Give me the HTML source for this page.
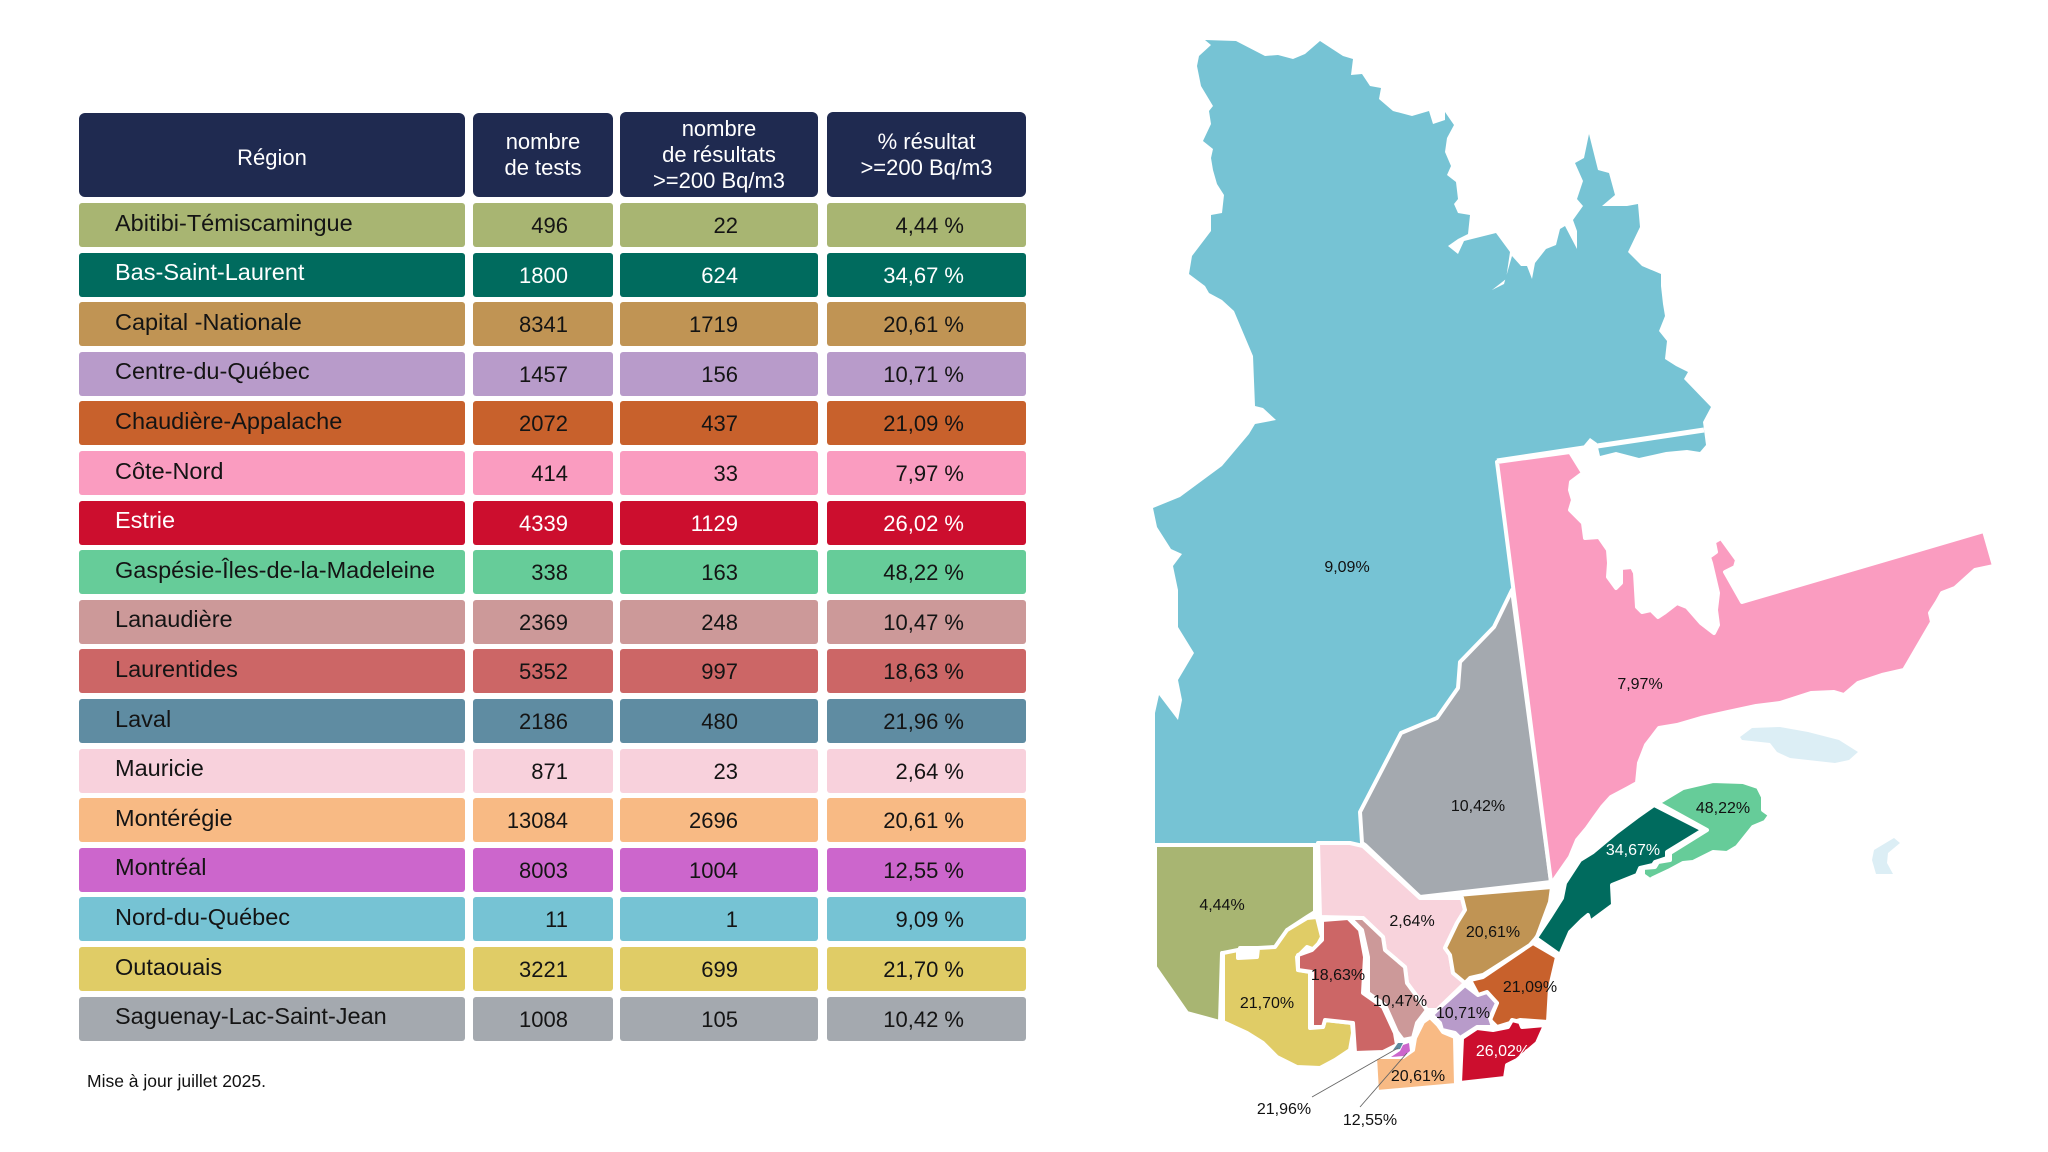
<!DOCTYPE html>
<html><head><meta charset="utf-8">
<style>
html,body{margin:0;padding:0;background:#fff;}
#root{position:relative;width:2048px;height:1152px;overflow:hidden;background:#fff;font-family:"Liberation Sans",sans-serif;}
.c{position:absolute;display:flex;align-items:center;box-sizing:border-box;font-size:22px;color:#141414;border-radius:3px;}
.h{position:absolute;background:#1f2a50;color:#fff;border-radius:6px;display:flex;align-items:center;justify-content:center;text-align:center;font-size:22px;line-height:26px;box-sizing:border-box;}
.r{justify-content:flex-start;padding-left:36px;padding-bottom:4px;font-size:23.5px;}
.n{justify-content:flex-end;padding-top:2px;}
.w{color:#fff;}
svg text{font-family:"Liberation Sans",sans-serif;font-size:16px;fill:#111;text-anchor:middle;}
</style></head>
<body><div id="root">
<div class="h" style="left:79px;top:113px;width:386px;height:84px;padding-top:6px;">Région</div>
<div class="h" style="left:473px;top:113px;width:140px;height:84px;">nombre<br>de tests</div>
<div class="h" style="left:620px;top:112px;width:198px;height:85px;">nombre<br>de résultats<br>&gt;=200 Bq/m3</div>
<div class="h" style="left:827px;top:112px;width:199px;height:85px;">% résultat<br>&gt;=200 Bq/m3</div>
<div style="position:absolute;left:87px;top:1071px;font-size:17.5px;color:#111;">Mise à jour juillet 2025.</div>

<svg width="2048" height="1152" style="position:absolute;left:0;top:0" xmlns="http://www.w3.org/2000/svg">
<g stroke="#fff" stroke-width="4" stroke-linejoin="round">
<path fill="#76c3d4" d="M1205,40 L1236,41 L1265,56 L1278,55 L1293,59 L1305,54 L1320,41 L1343,56 L1353,59 L1351,75 L1362,74 L1370,86 L1381,88 L1379,99 L1393,111 L1412,116 L1429,111 L1433,124 L1445,120 L1445,112 L1454,125 L1447,138 L1445,152 L1451,166 L1447,175 L1456,182 L1458,199 L1454,204 L1458,213 L1470,215 L1468,234 L1458,239 L1448,246 L1458,254 L1464,241 L1496,233 L1510,252 L1506,279 L1492,290 L1504,284 L1512,256 L1521,266 L1527,266 L1532,279 L1535,263 L1546,249 L1556,245 L1560,229 L1565,226 L1577,249 L1577,231 L1573,220 L1583,206 L1577,199 L1583,181 L1575,163 L1584,158 L1589,134 L1598,170 L1609,173 L1615,195 L1602,206 L1627,206 L1638,204 L1640,227 L1628,252 L1642,266 L1661,274 L1661,286 L1663,304 L1665,316 L1659,331 L1667,341 L1665,359 L1676,366 L1688,372 L1684,379 L1711,407 L1703,422 L1706,445 L1700,452 L1687,450 L1666,452 L1639,458 L1616,452 L1600,456 L1597,443 L1590,438 L1580,450 L1497,461 L1512,590 L1494,627 L1460,662 L1458,688 L1437,718 L1401,733 L1360,812 L1362,845 L1155,845 L1155,713 L1159,695 L1178,720 L1182,700 L1178,680 L1194,653 L1178,627 L1178,590 L1173,566 L1182,554 L1171,549 L1157,527 L1153,508 L1180,497 L1222,466 L1249,434 L1255,424 L1276,420 L1263,408 L1255,406 L1253,356 L1234,311 L1222,300 L1209,293 L1205,286 L1189,274 L1192,256 L1211,231 L1211,215 L1222,213 L1224,195 L1217,184 L1213,170 L1211,158 L1213,149 L1203,141 L1211,124 L1209,111 L1213,106 L1201,86 L1197,66 L1199,56 L1211,45 Z" stroke="none"/>
<path fill="#a4a9af" d="M1512,590 L1551,882 L1420,897 L1365,845 L1362,843 L1360,812 L1401,733 L1437,718 L1458,688 L1460,662 L1494,627 Z"/>
<path fill="#fa9cc0" d="M1497,462 L1570,452 L1583,473 L1571,482 L1570,490 L1573,500 L1570,510 L1583,523 L1585,538 L1599,537 L1608,550 L1609,563 L1608,577 L1616,588 L1621,583 L1621,568 L1632,567 L1635,573 L1637,607 L1642,612 L1651,610 L1658,617 L1664,613 L1677,603 L1687,607 L1701,623 L1714,633 L1718,625 L1716,610 L1718,593 L1711,563 L1709,557 L1716,552 L1714,542 L1721,538 L1737,560 L1735,567 L1725,572 L1742,602 L1984,531 L1994,566 L1975,570 L1955,588 L1942,593 L1937,602 L1930,613 L1932,622 L1904,670 L1882,675 L1858,683 L1844,695 L1834,692 L1811,693 L1780,703 L1756,706 L1728,712 L1701,718 L1677,725 L1659,728 L1646,745 L1639,763 L1637,783 L1628,788 L1611,797 L1602,807 L1594,818 L1587,828 L1577,840 L1570,857 L1554,880 L1551,882 Z"/>
<path fill="#a8b572" d="M1155,845 L1315,845 L1315,912 L1307,917 L1290,928 L1280,940 L1275,948 L1240,948 L1238,957 L1222,953 L1220,1022 L1187,1013 L1155,967 Z"/>
<path fill="#f8d3dc" d="M1318,843 L1350,843 L1363,846 L1420,898 L1462,898 L1465,910 L1457,923 L1445,948 L1450,955 L1453,973 L1465,983 L1437,1010 L1427,1010 L1407,983 L1405,967 L1385,950 L1383,937 L1363,918 L1320,917 Z"/>
<path fill="#e0cc66" d="M1223,953 L1238,950 L1238,958 L1257,957 L1258,948 L1275,947 L1287,930 L1307,918 L1317,917 L1322,937 L1315,950 L1307,947 L1297,957 L1298,970 L1310,972 L1310,1028 L1323,1027 L1325,1020 L1352,1023 L1353,1033 L1350,1050 L1335,1060 L1320,1068 L1297,1067 L1277,1057 L1263,1043 L1247,1033 L1223,1022 Z"/>
<path fill="#cc6666" d="M1298,955 L1312,950 L1322,940 L1322,920 L1348,918 L1360,930 L1365,957 L1363,993 L1383,1007 L1395,1033 L1397,1045 L1383,1052 L1355,1053 L1353,1023 L1325,1020 L1323,1027 L1312,1027 L1312,972 L1298,970 Z"/>
<path fill="#cc9999" d="M1350,918 L1363,918 L1383,937 L1385,950 L1405,967 L1407,983 L1427,1010 L1417,1023 L1413,1038 L1403,1040 L1397,1032 L1385,1005 L1368,993 L1368,957 L1362,930 Z"/>
<path fill="#c09454" d="M1422,898 L1552,887 L1550,902 L1537,937 L1530,945 L1483,975 L1470,978 L1465,983 L1453,973 L1450,955 L1445,948 L1457,923 L1465,910 L1462,898 Z"/>
<path fill="#c8612c" d="M1470,980 L1483,977 L1533,943 L1557,957 L1550,987 L1548,1022 L1520,1020 L1510,1023 L1497,1027 L1490,1020 L1497,1003 L1487,993 L1478,995 Z"/>
<path fill="#b89bca" d="M1465,985 L1478,995 L1487,992 L1497,1003 L1490,1018 L1493,1027 L1477,1027 L1460,1038 L1455,1033 L1442,1030 L1440,1023 L1432,1015 L1437,1010 Z"/>
<path fill="#cc0e2e" d="M1462,1038 L1477,1028 L1493,1030 L1508,1027 L1512,1020 L1520,1022 L1522,1027 L1545,1025 L1537,1043 L1517,1060 L1507,1065 L1505,1078 L1460,1083 Z"/>
<path fill="#f8ba84" d="M1375,1057 L1403,1057 L1413,1050 L1415,1038 L1423,1022 L1430,1017 L1438,1025 L1443,1032 L1455,1037 L1456,1085 L1377,1092 Z"/>
<path fill="#006b5e" d="M1536,938 L1560,955 L1570,932 L1582,920 L1588,915 L1590,922 L1613,905 L1612,885 L1637,875 L1640,868 L1653,865 L1655,862 L1667,858 L1667,852 L1703,830 L1654,805 L1637,817 L1617,832 L1593,852 L1580,860 L1565,883 L1562,898 L1550,917 Z"/>
<path fill="#66cc99" d="M1658,803 L1683,788 L1713,781 L1743,782 L1758,787 L1763,797 L1763,810 L1770,815 L1765,822 L1753,827 L1737,847 L1727,853 L1713,852 L1703,857 L1693,862 L1683,863 L1670,870 L1653,878 L1650,880 L1643,875 L1643,868 L1655,867 L1658,862 L1670,860 L1670,853 L1707,830 Z"/>
</g>
<line x1="1497" y1="461" x2="1704" y2="430" stroke="#fff" stroke-width="5"/>
<path fill="#5e8ba0" d="M1393,1050 L1398,1043 L1403,1043 L1400,1049 Z"/>
<path fill="#cc66cc" d="M1391,1057 L1400,1051 L1403,1045 L1409,1043 L1410,1051 L1404,1056 Z"/>
<path fill="#dceef5" d="M1740,737 L1752,728 L1780,727 L1808,732 L1839,740 L1858,752 L1849,760 L1835,763 L1790,758 L1777,752 L1770,743 L1742,740 Z"/>
<path fill="#dceef5" d="M1874,850 L1894,838 L1900,843 L1888,853 L1887,863 L1893,874 L1876,874 L1872,860 Z"/>
<line x1="1312" y1="1097" x2="1398" y2="1048" stroke="#666" stroke-width="0.9"/>
<line x1="1360" y1="1107" x2="1407" y2="1053" stroke="#666" stroke-width="0.9"/>
<text x="1347" y="572">9,09%</text>
<text x="1478" y="811">10,42%</text>
<text x="1640" y="689">7,97%</text>
<text x="1723" y="813">48,22%</text>
<text x="1633" y="855" style="fill:#fff">34,67%</text>
<text x="1222" y="910">4,44%</text>
<text x="1412" y="926">2,64%</text>
<text x="1493" y="937">20,61%</text>
<text x="1338" y="980">18,63%</text>
<text x="1267" y="1008">21,70%</text>
<text x="1400" y="1006">10,47%</text>
<text x="1463" y="1018">10,71%</text>
<text x="1530" y="992">21,09%</text>
<text x="1503" y="1056" style="fill:#fff">26,02%</text>
<text x="1418" y="1081">20,61%</text>
<text x="1284" y="1114">21,96%</text>
<text x="1370" y="1125">12,55%</text>
</svg>

<div class="c r" style="left:79px;top:203px;width:386px;height:44px;background:#a8b572">Abitibi-Témiscamingue</div>
<div class="c n" style="left:473px;top:203px;width:140px;height:44px;background:#a8b572;padding-right:45px">496</div>
<div class="c n" style="left:620px;top:203px;width:198px;height:44px;background:#a8b572;padding-right:80px">22</div>
<div class="c n" style="left:827px;top:203px;width:199px;height:44px;background:#a8b572;padding-right:62px">4,44 %</div>

<div class="c r w" style="left:79px;top:252.6px;width:386px;height:44px;background:#006b5e">Bas-Saint-Laurent</div>
<div class="c n w" style="left:473px;top:252.6px;width:140px;height:44px;background:#006b5e;padding-right:45px">1800</div>
<div class="c n w" style="left:620px;top:252.6px;width:198px;height:44px;background:#006b5e;padding-right:80px">624</div>
<div class="c n w" style="left:827px;top:252.6px;width:199px;height:44px;background:#006b5e;padding-right:62px">34,67 %</div>

<div class="c r" style="left:79px;top:302.2px;width:386px;height:44px;background:#c09454">Capital -Nationale</div>
<div class="c n" style="left:473px;top:302.2px;width:140px;height:44px;background:#c09454;padding-right:45px">8341</div>
<div class="c n" style="left:620px;top:302.2px;width:198px;height:44px;background:#c09454;padding-right:80px">1719</div>
<div class="c n" style="left:827px;top:302.2px;width:199px;height:44px;background:#c09454;padding-right:62px">20,61 %</div>

<div class="c r" style="left:79px;top:351.8px;width:386px;height:44px;background:#b89bca">Centre-du-Québec</div>
<div class="c n" style="left:473px;top:351.8px;width:140px;height:44px;background:#b89bca;padding-right:45px">1457</div>
<div class="c n" style="left:620px;top:351.8px;width:198px;height:44px;background:#b89bca;padding-right:80px">156</div>
<div class="c n" style="left:827px;top:351.8px;width:199px;height:44px;background:#b89bca;padding-right:62px">10,71 %</div>

<div class="c r" style="left:79px;top:401.4px;width:386px;height:44px;background:#c8612c">Chaudière-Appalache</div>
<div class="c n" style="left:473px;top:401.4px;width:140px;height:44px;background:#c8612c;padding-right:45px">2072</div>
<div class="c n" style="left:620px;top:401.4px;width:198px;height:44px;background:#c8612c;padding-right:80px">437</div>
<div class="c n" style="left:827px;top:401.4px;width:199px;height:44px;background:#c8612c;padding-right:62px">21,09 %</div>

<div class="c r" style="left:79px;top:451px;width:386px;height:44px;background:#fa9cc0">Côte-Nord</div>
<div class="c n" style="left:473px;top:451px;width:140px;height:44px;background:#fa9cc0;padding-right:45px">414</div>
<div class="c n" style="left:620px;top:451px;width:198px;height:44px;background:#fa9cc0;padding-right:80px">33</div>
<div class="c n" style="left:827px;top:451px;width:199px;height:44px;background:#fa9cc0;padding-right:62px">7,97 %</div>

<div class="c r w" style="left:79px;top:500.6px;width:386px;height:44px;background:#cc0e2e">Estrie</div>
<div class="c n w" style="left:473px;top:500.6px;width:140px;height:44px;background:#cc0e2e;padding-right:45px">4339</div>
<div class="c n w" style="left:620px;top:500.6px;width:198px;height:44px;background:#cc0e2e;padding-right:80px">1129</div>
<div class="c n w" style="left:827px;top:500.6px;width:199px;height:44px;background:#cc0e2e;padding-right:62px">26,02 %</div>

<div class="c r" style="left:79px;top:550.2px;width:386px;height:44px;background:#66cc99">Gaspésie-Îles-de-la-Madeleine</div>
<div class="c n" style="left:473px;top:550.2px;width:140px;height:44px;background:#66cc99;padding-right:45px">338</div>
<div class="c n" style="left:620px;top:550.2px;width:198px;height:44px;background:#66cc99;padding-right:80px">163</div>
<div class="c n" style="left:827px;top:550.2px;width:199px;height:44px;background:#66cc99;padding-right:62px">48,22 %</div>

<div class="c r" style="left:79px;top:599.8px;width:386px;height:44px;background:#cc9999">Lanaudière</div>
<div class="c n" style="left:473px;top:599.8px;width:140px;height:44px;background:#cc9999;padding-right:45px">2369</div>
<div class="c n" style="left:620px;top:599.8px;width:198px;height:44px;background:#cc9999;padding-right:80px">248</div>
<div class="c n" style="left:827px;top:599.8px;width:199px;height:44px;background:#cc9999;padding-right:62px">10,47 %</div>

<div class="c r" style="left:79px;top:649.4px;width:386px;height:44px;background:#cc6666">Laurentides</div>
<div class="c n" style="left:473px;top:649.4px;width:140px;height:44px;background:#cc6666;padding-right:45px">5352</div>
<div class="c n" style="left:620px;top:649.4px;width:198px;height:44px;background:#cc6666;padding-right:80px">997</div>
<div class="c n" style="left:827px;top:649.4px;width:199px;height:44px;background:#cc6666;padding-right:62px">18,63 %</div>

<div class="c r" style="left:79px;top:699px;width:386px;height:44px;background:#5f8ca2">Laval</div>
<div class="c n" style="left:473px;top:699px;width:140px;height:44px;background:#5f8ca2;padding-right:45px">2186</div>
<div class="c n" style="left:620px;top:699px;width:198px;height:44px;background:#5f8ca2;padding-right:80px">480</div>
<div class="c n" style="left:827px;top:699px;width:199px;height:44px;background:#5f8ca2;padding-right:62px">21,96 %</div>

<div class="c r" style="left:79px;top:748.6px;width:386px;height:44px;background:#f8d1dc">Mauricie</div>
<div class="c n" style="left:473px;top:748.6px;width:140px;height:44px;background:#f8d1dc;padding-right:45px">871</div>
<div class="c n" style="left:620px;top:748.6px;width:198px;height:44px;background:#f8d1dc;padding-right:80px">23</div>
<div class="c n" style="left:827px;top:748.6px;width:199px;height:44px;background:#f8d1dc;padding-right:62px">2,64 %</div>

<div class="c r" style="left:79px;top:798.2px;width:386px;height:44px;background:#f8ba84">Montérégie</div>
<div class="c n" style="left:473px;top:798.2px;width:140px;height:44px;background:#f8ba84;padding-right:45px">13084</div>
<div class="c n" style="left:620px;top:798.2px;width:198px;height:44px;background:#f8ba84;padding-right:80px">2696</div>
<div class="c n" style="left:827px;top:798.2px;width:199px;height:44px;background:#f8ba84;padding-right:62px">20,61 %</div>

<div class="c r" style="left:79px;top:847.8px;width:386px;height:44px;background:#cc66cc">Montréal</div>
<div class="c n" style="left:473px;top:847.8px;width:140px;height:44px;background:#cc66cc;padding-right:45px">8003</div>
<div class="c n" style="left:620px;top:847.8px;width:198px;height:44px;background:#cc66cc;padding-right:80px">1004</div>
<div class="c n" style="left:827px;top:847.8px;width:199px;height:44px;background:#cc66cc;padding-right:62px">12,55 %</div>

<div class="c r" style="left:79px;top:897.4px;width:386px;height:44px;background:#76c3d4">Nord-du-Québec</div>
<div class="c n" style="left:473px;top:897.4px;width:140px;height:44px;background:#76c3d4;padding-right:45px">11</div>
<div class="c n" style="left:620px;top:897.4px;width:198px;height:44px;background:#76c3d4;padding-right:80px">1</div>
<div class="c n" style="left:827px;top:897.4px;width:199px;height:44px;background:#76c3d4;padding-right:62px">9,09 %</div>

<div class="c r" style="left:79px;top:947px;width:386px;height:44px;background:#e0cc66">Outaouais</div>
<div class="c n" style="left:473px;top:947px;width:140px;height:44px;background:#e0cc66;padding-right:45px">3221</div>
<div class="c n" style="left:620px;top:947px;width:198px;height:44px;background:#e0cc66;padding-right:80px">699</div>
<div class="c n" style="left:827px;top:947px;width:199px;height:44px;background:#e0cc66;padding-right:62px">21,70 %</div>

<div class="c r" style="left:79px;top:996.6px;width:386px;height:44px;background:#a4a9af">Saguenay-Lac-Saint-Jean</div>
<div class="c n" style="left:473px;top:996.6px;width:140px;height:44px;background:#a4a9af;padding-right:45px">1008</div>
<div class="c n" style="left:620px;top:996.6px;width:198px;height:44px;background:#a4a9af;padding-right:80px">105</div>
<div class="c n" style="left:827px;top:996.6px;width:199px;height:44px;background:#a4a9af;padding-right:62px">10,42 %</div>
</div></body></html>
